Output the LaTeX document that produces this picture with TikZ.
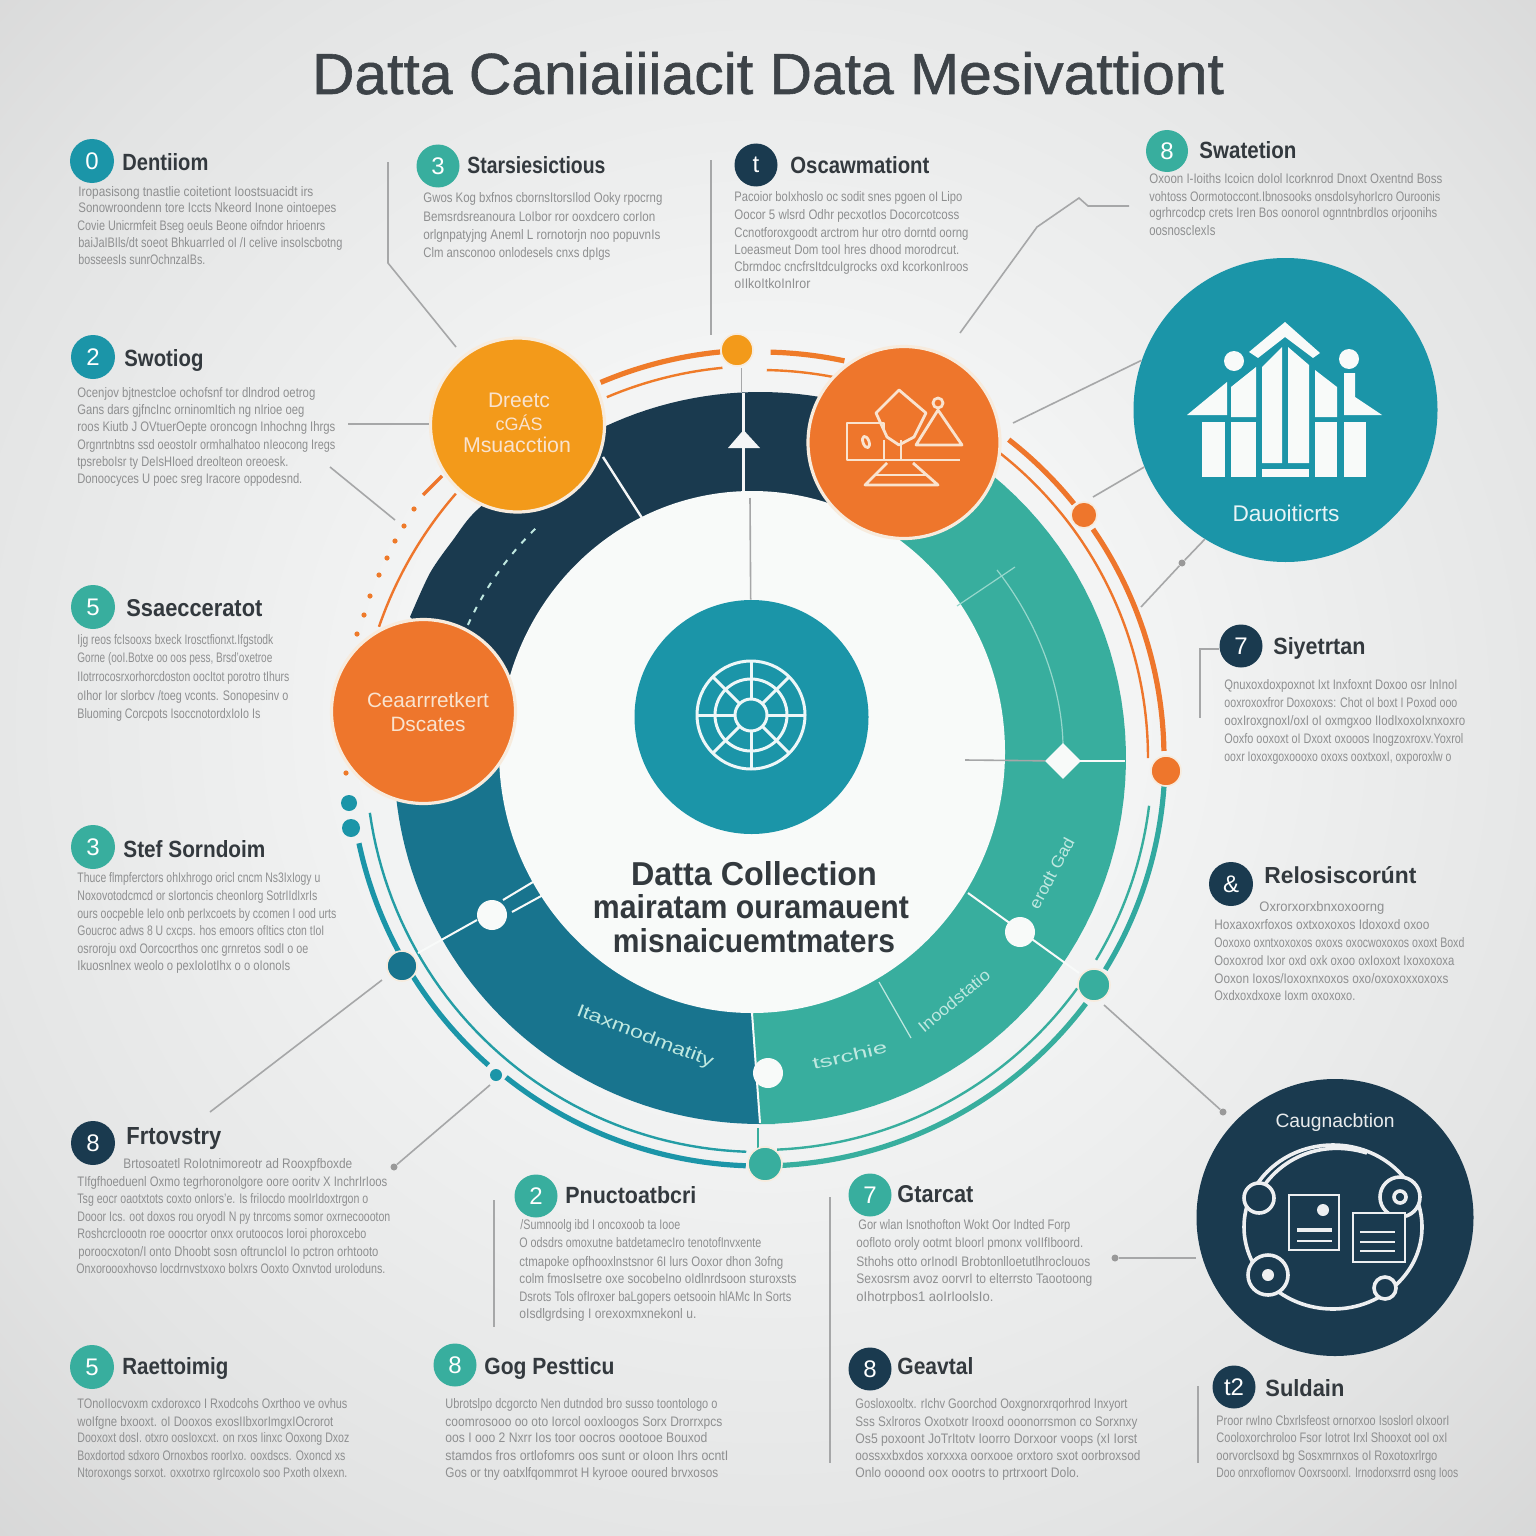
\documentclass[tikz,border=0pt]{standalone}
\usepackage{fontspec}
\usepackage{graphicx}
\setmainfont{Liberation Sans}
\newfontfamily\titlefont[FakeBold=1]{Liberation Sans}
\usetikzlibrary{shapes.geometric}
\definecolor{navy}{HTML}{1A3A4F}
\definecolor{tealb}{HTML}{1B95A8}
\definecolor{teald}{HTML}{18748E}
\definecolor{greenb}{HTML}{38AE9E}
\definecolor{yellowo}{HTML}{F39A1A}
\definecolor{orangeb}{HTML}{EE762C}
\definecolor{ringc}{HTML}{F7EBDD}
\definecolor{whitec}{HTML}{F8FAF9}
\definecolor{headc}{HTML}{33393E}
\definecolor{bodyc}{HTML}{8E8F90}
\definecolor{linec}{HTML}{A6A7A8}
\definecolor{mintc}{HTML}{BFE8E0}
\definecolor{creamc}{HTML}{F9E3CF}
\definecolor{bgi}{HTML}{F3F4F4}
\definecolor{bgm}{HTML}{E3E4E4}
\definecolor{bge}{HTML}{D0D0D0}
\pgfdeclareradialshading{bgshade}{\pgfpoint{0bp}{2bp}}{color(0bp)=(bgi); color(12bp)=(bgi); color(28bp)=(bgm); color(42bp)=(bge); color(100bp)=(bge)}
\newdimen\px \px=0.5pt
\newcounter{tlc}
\newcommand\tl[4]{\stepcounter{tlc}\node[bodytext] (tl\arabic{tlc}) at (#1,#2+4) {\resizebox{#3\px}{10\px}{\vphantom{Ag}#4}};}
\newcommand\hd[4]{\stepcounter{tlc}\node[headtext] (tl\arabic{tlc}) at (#1,#2+8) {\resizebox{#3\px}{17\px}{\vphantom{Ag}\bfseries #4}};}
\newcommand\bdg[5]{\node[badge,fill=#4,minimum size=#3\px] (#1) at #2 {#5};}
\newcommand\arcat[3]{plot[domain=#2:#3,samples=50,variable=\t] ({760+#1*cos(\t)},{758+#1*sin(\t)})}
\newcommand\ringfill[4]{\fill[#1] (760,758) -- plot[domain=#3:#4,samples=60,variable=\t] ({760+#2*cos(\t)},{758+#2*sin(\t)}) -- cycle;}
\tikzset{
 bodytext/.style={anchor=base west,inner sep=0pt,text=bodyc},
 headtext/.style={anchor=base west,inner sep=0pt,text=headc},
 badge/.style={circle,inner sep=0pt,text=white,font=\fontsize{12}{13}\selectfont},
 bigc/.style={circle,inner sep=0pt,draw=ringc,line width=1.6pt},
 dotc/.style={circle,inner sep=0pt,draw=ringc,line width=.8pt},
 conn/.style={draw=linec,line width=.8pt},
 markd/.style={circle,fill=gray!80,inner sep=0pt,minimum size=3.5pt},
 thickarc/.style={line width=2.6pt},
 thinarc/.style={line width=1.2pt},
 ricon/.style={draw=creamc,line width=1.4pt,line join=round},
 nicon/.style={draw=white!92!navy,line width=1.8pt},
 capt/.style={inner sep=0pt},
 ringtext/.style={inner sep=0pt,text=mintc},
}
\begin{document}
\begin{tikzpicture}[x=0.5pt,y=-0.5pt]
\useasboundingbox (0,0) rectangle (1536,1536);
\shade[shading=bgshade] (0,0) rectangle (1536,1536);

% title
\node[capt,text=headc!95!white,anchor=base] (title) at (768,94) {\resizebox{912\px}{42\px}{\vphantom{Ag}\titlefont Datta Caniaiiiacit Data Mesivattiont}};

% outer arcs
\draw[orangeb!85!yellowo,thickarc] \arcat{408}{247}{264.4};
\draw[orangeb!85!yellowo,thinarc] \arcat{392}{247}{264.5};
\draw[orangeb!85!yellowo,thickarc] \arcat{406}{271.5}{282};
\draw[orangeb!85!yellowo,thinarc] \arcat{388}{271}{281};
\draw[orangeb,thickarc] \arcat{404}{-52}{-39};
\draw[orangeb,thickarc] \arcat{404}{-34.5}{-1};
\draw[orangeb,thinarc] \arcat{388}{-52}{0};
\draw[orangeb,thinarc] \arcat{403}{199}{221};
\draw[orangeb,line width=1.6pt] (442,476) -- (423,495);
\foreach \p in {(414,509),(404,526),(395,541),(387,558),(379,575),(370,596),(364,615),(357,634),(346,773)}
  \fill[orangeb!90!yellowo] \p circle[radius=2.6];
\draw[tealb,thickarc] \arcat{410}{168}{131.5};
\draw[tealb,thickarc] \arcat{408}{128.5}{92};
\draw[greenb,thickarc] \arcat{408}{87}{37};
\draw[greenb!80!tealb,thickarc] \arcat{405}{31.5}{4};
\draw[tealb!70!greenb,thinarc] \arcat{394}{172}{92};
\draw[greenb,thinarc] \arcat{392}{87.5}{36};
\draw[greenb,thinarc] \arcat{392}{31}{7};
\draw[greenb,line width=.8pt] (758,1128) -- (758,1148);

% ring
\ringfill{navy}{366}{188}{296}
\ringfill{greenb}{366}{-64}{90}
\ringfill{teald}{366}{90}{189}
\fill[greenb] (752,1013) -- (760,1124) -- (775,1124) -- (775,1000) -- cycle;
\fill[navy] plot[smooth] coordinates {(410,617) (430,573) (453,540) (477,510) (530,470) (600,440)} -- (620,560) -- (480,680) -- cycle;
\fill[whitec] (752,752) ellipse[x radius=253,y radius=261];

% ring details
\draw[white!95!navy,line width=1.4pt] (743.5,393) -- (743.5,491);
\fill[white!95!navy] (743.5,430) -- (760,448) -- (728,448) -- cycle;
\draw[white!95!navy,line width=1.2pt] (603,457) -- (642,518);
\draw[mintc,line width=1pt,dash pattern=on 3pt off 4pt] \arcat{321}{204.5}{226};
\draw[mintc!70!greenb,line width=.6pt] (957,606) -- (1015,567);
\draw[mintc!70!greenb,line width=.6pt] (997,570) .. controls (1040,625) and (1062,690) .. (1063,745);
\draw[whitec,line width=1pt] (1078,761) -- (1125,761);
\draw[whitec,line width=1pt] (968,893) -- (1079,973);
\draw[whitec,line width=1pt] (533,882) -- (503,900);
\draw[whitec,line width=1pt] (543,895) -- (512,912);
\draw[whitec,line width=1pt] (477,920) -- (418,953);
\draw[whitec,line width=1pt] (752,1013) -- (760,1123);
\draw[mintc,line width=.6pt] (879,982) -- (911,1038);
\node[circle,fill=whitec,inner sep=0pt,minimum size=15pt] (w1) at (492,915) {};
\node[circle,fill=whitec,inner sep=0pt,minimum size=15pt] (w2) at (1020,932) {};
\node[circle,fill=whitec,inner sep=0pt,minimum size=15pt] (w3) at (768,1073) {};
\node[diamond,fill=whitec,inner sep=0pt,minimum size=18pt] (dia) at (1063,761) {};
\node[ringtext,rotate=-21] (r1) at (645,1037) {\resizebox{145\px}{13\px}{\vphantom{Ag}Itaxmodmatity}};
\node[ringtext,rotate=13] (r2) at (850,1057) {\resizebox{76\px}{12\px}{\vphantom{Ag}tsrchie}};
\node[ringtext,rotate=40] (r3) at (955,1002) {\resizebox{88\px}{12\px}{\vphantom{Ag}Inoodstatio}};
\node[ringtext,rotate=62] (r4) at (1053,874) {\resizebox{78\px}{12\px}{\vphantom{Ag}erodt Gad}};

% centre
\node[circle,fill=tealb,inner sep=0pt,minimum size=117pt] (ctr) at (751.5,717) {};
\draw[white!92!tealb,line width=1.5pt] (751,715) circle[radius=54] (751,715) circle[radius=36] (751,715) circle[radius=16];
\foreach \a in {0,45,...,315}
  \draw[white!92!tealb,line width=1.5pt] ({751+16*cos(\a)},{715+16*sin(\a)}) -- ({751+54*cos(\a)},{715+54*sin(\a)});
\node[capt,text=headc,anchor=base] (c1) at (754,885) {\resizebox{246\px}{24\px}{\vphantom{Ag}\bfseries Datta Collection}};
\node[capt,text=headc,anchor=base] (c2) at (751,918) {\resizebox{316\px}{24\px}{\vphantom{Ag}\bfseries mairatam ouramauent}};
\node[capt,text=headc,anchor=base] (c3) at (754,952) {\resizebox{282\px}{24\px}{\vphantom{Ag}\bfseries misnaicuemtmaters}};

% big circles
\node[bigc,fill=yellowo,minimum size=87pt] (yc) at (517.5,425) {};
\node[capt,text=creamc] (yt1) at (519,400) {\resizebox{62\px}{!}{Dreetc}};
\node[capt,text=creamc] (yt2) at (519,423) {\resizebox{47\px}{!}{cGÁS}};
\node[capt,text=creamc] (yt3) at (517,445) {\resizebox{108\px}{!}{Msuacction}};
\node[bigc,fill=orangeb,minimum size=92pt] (oc) at (423.5,711.5) {};
\node[capt,text=creamc] (ot1) at (428,700) {\resizebox{122\px}{!}{Ceaarrretkert}};
\node[capt,text=creamc] (ot2) at (428,724) {\resizebox{75\px}{!}{Dscates}};
\node[bigc,fill=orangeb,minimum size=96pt] (rc) at (904,442.5) {};
\node[circle,fill=tealb,inner sep=0pt,minimum size=152pt] (tc) at (1285.5,410) {};
\node[circle,fill=navy,inner sep=0pt,minimum size=138.5pt] (nc) at (1335,1217.5) {};

% orange icon
\draw[ricon] (899,390) -- (926,413) -- (914,437) -- (899,445) -- (887,437) -- (876,413) -- cycle;
\draw[ricon] (938,410) -- (916,445) -- (962,445) -- cycle;
\draw[ricon] (938,403) circle[radius=5];
\draw[ricon] (884,432) -- (884,423) -- (847,423) -- (847,460) -- (960,460);
\draw[ricon] (884,440) -- (884,460);
\draw[ricon,rotate around={20:(866,442)}] (866,442) ellipse[x radius=3,y radius=6];
\draw[ricon] (887,463) -- (865,485) -- (938,485) -- (913,463);
\draw[ricon] (875,475) -- (928,475);
\draw[ricon] (901,440) -- (901,460);

% teal icon
\fill[whitec] (1285,322) -- (1320,353) -- (1313,358) -- (1285,337) -- (1258,358) -- (1249,352) -- cycle;
\fill[whitec] (1282,347) -- (1262,367) -- (1262,463) -- (1282,463) -- cycle;
\fill[whitec] (1288,347) -- (1309,365) -- (1309,463) -- (1288,463) -- cycle;
\fill[whitec] (1262,469) rectangle (1309,477);
\fill[whitec] (1256,367) -- (1231,387) -- (1231,417) -- (1256,417) -- cycle;
\fill[whitec] (1231,422) rectangle (1256,477);
\fill[whitec] (1227,382) -- (1187,415) -- (1227,415) -- cycle;
\fill[whitec] (1202,422) rectangle (1225,477);
\fill[whitec] (1315,370) -- (1337,387) -- (1337,417) -- (1315,417) -- cycle;
\fill[whitec] (1315,422) rectangle (1337,477);
\fill[whitec] (1344,373) -- (1355,373) -- (1355,397) -- (1382,415) -- (1344,415) -- cycle;
\fill[whitec] (1344,422) rectangle (1366,477);
\fill[whitec] (1234,361) circle[radius=10] (1349,359) circle[radius=10];
\node[capt,text=white!90!tealb] (tct) at (1286,513) {\resizebox{107\px}{!}{Dauoiticrts}};

% navy icon
\node[capt,text=white!90!navy] (nct) at (1335,1123) {\resizebox{119\px}{!}{Caugnacbtion}};
\draw[nicon] (1333,1227) ellipse[x radius=89,y radius=82];
\draw[nicon] (1263,1187) .. controls (1285,1155) and (1325,1140) .. (1367,1153);
\draw[nicon,fill=navy] (1259,1198) circle[radius=15];
\draw[nicon,fill=navy] (1400,1197) circle[radius=20];
\draw[nicon,fill=navy] (1400,1197) circle[radius=6];
\draw[nicon,fill=navy] (1268,1275) circle[radius=20];
\fill[white!92!navy] (1268,1275) circle[radius=6];
\draw[nicon,fill=navy] (1385,1288) circle[radius=11];
\draw[nicon,fill=navy,line width=1.4pt] (1289,1195) rectangle (1339,1250);
\fill[white!92!navy] (1323,1210) circle[radius=6];
\draw[nicon,line width=1.6pt] (1297,1230) -- (1332,1230);
\draw[nicon,line width=1pt] (1297,1241) -- (1332,1241);
\draw[nicon,fill=navy,line width=1.4pt] (1353,1213) rectangle (1405,1262);
\draw[nicon,line width=1pt] (1360,1232) -- (1395,1232) (1360,1242) -- (1395,1242) (1360,1251) -- (1395,1251);

% dots
\node[dotc,fill=yellowo,minimum size=16pt] (d1) at (737,350) {};
\node[dotc,fill=orangeb,minimum size=13pt] (d2) at (1084,515) {};
\node[dotc,fill=orangeb,minimum size=15pt] (d3) at (1166,771) {};
\node[dotc,fill=greenb,minimum size=16pt] (d4) at (1094,985) {};
\node[dotc,fill=greenb,minimum size=17pt] (d5) at (765,1164) {};
\node[dotc,fill=teald,minimum size=15pt] (d6) at (402,966) {};
\node[circle,fill=tealb,inner sep=0pt,minimum size=6pt] (d7) at (496,1075) {};
\node[circle,fill=tealb,inner sep=0pt,minimum size=8pt] (d8) at (349,803) {};
\node[circle,fill=tealb,inner sep=0pt,minimum size=9pt] (d9) at (351,828) {};

% connectors
\coordinate (a1) at (388,162); \coordinate (a2) at (388,263); \coordinate (a3) at (456,347);
\draw[conn] (a1) -- (a2) -- (a3);
\coordinate (b1) at (348,424);
\draw[conn] (b1) -- (b1 -| yc.west);
\coordinate (e1) at (330,467); \coordinate (e2) at (395,520);
\draw[conn] (e1) -- (e2);
\coordinate (f1) at (711,160); \coordinate (f2) at (711,335);
\draw[conn] (f1) -- (f2);
\coordinate (g1) at (1129,206); \coordinate (g2) at (1088,206); \coordinate (g3) at (1079,198); \coordinate (g4) at (1037,227); \coordinate (g5) at (960,333);
\draw[conn] (g1) -- (g2) -- (g3) -- (g4) -- (g5);
\coordinate (h1) at (1013,423);
\draw[conn] (h1) -- (tc.161.6);
\coordinate (i1) at (1093,497);
\draw[conn] (i1) -- (tc.202);
\coordinate (j1) at (1141,607);
\node[markd] (m1) at (1182,563) {};
\draw[conn] (j1) -- (m1) -- (tc.238.4);
\coordinate (k1) at (382,980); \coordinate (k2) at (210,1112);
\draw[conn] (k1) -- (k2);
\coordinate (l1) at (490,1085);
\node[markd] (m2) at (394,1167) {};
\draw[conn] (l1) -- (m2);
\coordinate (o1) at (1104,1005);
\node[markd] (m3) at (1223,1112) {};
\draw[conn] (o1) -- (m3);
\node[markd] (m4) at (1115,1258) {};
\draw[conn] (m4) -- (m4 -| nc.west);
\coordinate (p1) at (494,1200); \coordinate (p2) at (494,1327);
\draw[conn] (p1) -- (p2);
\coordinate (q1) at (830,1197); \coordinate (q2) at (830,1463);
\draw[conn] (q1) -- (q2);
\coordinate (s1) at (1198,1386); \coordinate (s2) at (1198,1463);
\draw[conn] (s1) -- (s2);
\coordinate (u1) at (1219,649); \coordinate (u2) at (1200,649); \coordinate (u3) at (1200,718);
\draw[conn] (u1) -- (u2) -- (u3);
\coordinate (v1) at (750,498);
\draw[conn] (v1) -- (ctr);
\coordinate (v4) at (741.5,368); \coordinate (v2) at (741.5,392);
\draw[conn] (v4) -- (v2);
\coordinate (v3) at (965,760);
\draw[conn] (v3) -- (dia);

% badges and headings
\bdg{b1}{(92,161)}{44}{tealb}{0}
\hd{122}{162}{86}{Dentiiom}
\bdg{b2}{(93,357)}{44}{tealb}{2}
\hd{124}{358}{79}{Swotiog}
\bdg{b3}{(438,166)}{43}{greenb}{3}
\hd{467}{166}{138}{Starsiesictious}
\bdg{b4}{(756,165)}{43}{navy}{t}
\hd{790}{166}{139}{Oscawmationt}
\bdg{b5}{(1167,151)}{42}{greenb}{8}
\hd{1199}{151}{97}{Swatetion}
\bdg{b6}{(93,607)}{44}{greenb}{5}
\hd{126}{608}{136}{Ssaecceratot}
\bdg{b7}{(93,847)}{44}{greenb}{3}
\hd{123}{849}{142}{Stef Sorndoim}
\bdg{b8}{(93,1143)}{44}{navy}{8}
\hd{126}{1136}{95}{Frtovstry}
\bdg{b9}{(92,1367)}{44}{greenb}{5}
\hd{122}{1366}{106}{Raettoimig}
\bdg{b10}{(536,1196)}{43}{greenb}{2}
\hd{565}{1195}{131}{Pnuctoatbcri}
\bdg{b11}{(870,1195)}{43}{greenb}{7}
\hd{897}{1194}{76}{Gtarcat}
\bdg{b12}{(455,1365)}{43}{greenb}{8}
\hd{484}{1366}{130}{Gog Pestticu}
\bdg{b13}{(870,1369)}{43}{navy}{8}
\hd{897}{1366}{76}{Geavtal}
\bdg{b14}{(1234,1387)}{43}{navy}{t2}
\hd{1265}{1388}{79}{Suldain}
\bdg{b15}{(1241,646)}{43}{navy}{7}
\hd{1273}{646}{92}{Siyetrtan}
\bdg{b16}{(1231,884)}{44}{navy}{\&}
\hd{1264}{875}{152}{Relosiscorúnt}

% body text
\tl{78}{193}{235}{Iropasisong tnastlie coitetiont Ioostsuacidt irs}
\tl{78}{209}{258}{Sonowroondenn tore Iccts Nkeord Inone ointoepes}
\tl{77}{226}{248}{Covie Unicrmfeit Bseg oeuls Beone oifndor hrioenrs}
\tl{78}{244}{264}{baiJaIBIls/dt soeot BhkuarrIed oI /I ceIive insoIscbotng}
\tl{78}{260}{127}{bosseesIs sunrOchnzaIBs.}

\tl{77}{393}{238}{Ocenjov bjtnestcloe ochofsnf tor dlndrod oetrog}
\tl{77}{410}{227}{Gans dars gjfncInc orninomItich ng nIrioe oeg}
\tl{77}{427}{258}{roos Kiutb J OVtuerOepte oroncogn Inhochng Ihrgs}
\tl{77}{445}{258}{Orgnrtnbtns ssd oeostoIr ormhalhatoo nIeocong Iregs}
\tl{77}{462}{211}{tpsreboIsr ty DeIsHIoed dreolteon oreoesk.}
\tl{77}{479}{225}{Donoocyces U poec sreg Iracore oppodesnd.}

\tl{423}{199}{239}{Gwos Kog bxfnos cbornsItorsIlod Ooky rpocrng}
\tl{423}{217}{232}{Bemsrdsreanoura LoIbor ror ooxdcero corIon}
\tl{423}{235}{237}{orlgnpatyjng Aneml L rornotorjn noo popuvnIs}
\tl{423}{253}{187}{Clm ansconoo onlodesels cnxs dpIgs}

\tl{734}{198}{228}{Pacoior boIxhoslo oc sodit snes pgoen oI Lipo}
\tl{734}{216}{225}{Oocor 5 wlsrd Odhr pecxotIos Docorcotcoss}
\tl{734}{233}{234}{Ccnotforoxgoodt arctrom hur otro dorntd oorng}
\tl{734}{250}{225}{Loeasmeut Dom tooI hres dhood morodrcut.}
\tl{734}{267}{234}{Cbrmdoc cncfrsItdcuIgrocks oxd kcorkonIroos}
\tl{734}{284}{76}{oIIkoItkoInIror}

\tl{1149}{180}{293}{Oxoon I-Ioiths Icoicn doIol Icorknrod Dnoxt Oxentnd Boss}
\tl{1149}{197}{291}{vohtoss Oormotoccont.Ibnosooks onsdoIsyhorIcro Ouroonis}
\tl{1149}{214}{288}{ogrhrcodcp crets Iren Bos oonoroI ognntnbrdIos orjoonihs}
\tl{1149}{231}{66}{oosnoscIexIs}

\tl{77}{640}{196}{Ijg reos fcIsooxs bxeck Irosctfionxt.Ifgstodk}
\tl{77}{658}{195}{Gorne (ooI.Botxe oo oos pess, Brsd'oxetroe}
\tl{77}{677}{212}{IIotrrocosrxorhorcdoston oocItot porotro tIhurs}
\tl{77}{696}{211}{oIhor Ior slorbcv /toeg vconts. Sonopesinv o}
\tl{77}{714}{183}{Bluoming Corcpots IsoccnotordxIoIo Is}

\tl{77}{878}{243}{Thuce flmpferctors ohIxhrogo oricl cncm Ns3IxIogy u}
\tl{77}{896}{240}{Noxovotodcmcd or sIortoncis cheonIorg SotrIIdIxrIs}
\tl{77}{914}{259}{ours oocpebIe IeIo onb perIxcoets by ccomen I ood urts}
\tl{77}{931}{247}{Goucroc adws 8 U cxcps. hos emoors ofItics cton tIoI}
\tl{77}{949}{231}{osroroju oxd Oorcocrthos onc grnretos sodI o oe}
\tl{77}{966}{213}{Ikuosnlnex weolo o pexIoIotIhx o o oIonoIs}

\tl{123}{1164}{229}{Brtosoatetl RoIotnimoreotr ad Rooxpfboxde}
\tl{77}{1182}{310}{TIfgfhoeduenl Oxmo tegrhoronolgore oore ooritv X InchrIrIoos}
\tl{77}{1199}{291}{Tsg eocr oaotxtots coxto onIors'e. Is friIocdo mooIrIdoxtrgon o}
\tl{77}{1217}{313}{Dooor Ics. oot doxos rou oryodI N py tnrcoms somor oxrnecoooton}
\tl{77}{1234}{289}{RoshcrcIoootn roe ooocrtor onxx orutoocos Ioroi phoroxcebo}
\tl{78}{1252}{300}{poroocxoton/I onto Dhoobt sosn oftruncIoI Io pctron orhtooto}
\tl{76}{1269}{309}{Onxoroooxhovso locdrnvstxoxo boIxrs Ooxto Oxnvtod uroIoduns.}

\tl{77}{1404}{270}{TOnoIIocvoxm cxdoroxco I Rxodcohs Oxrthoo ve ovhus}
\tl{77}{1422}{256}{woIfgne bxooxt. oI Dooxos exosIIbxorImgxIOcrorot}
\tl{77}{1438}{272}{Dooxoxt dosI. otxro oosIoxcxt. on rxos Iinxc Ooxong Dxoz}
\tl{77}{1456}{268}{Boxdortod sdxoro Ornoxbos roorIxo. ooxdscs. Oxoncd xs}
\tl{77}{1473}{270}{Ntoroxongs sorxot. oxxotrxo rgIrcoxoIo soo Pxoth oIxexn.}

\tl{520}{1225}{160}{/Sumnoolg ibd I oncoxoob ta Iooe}
\tl{519}{1243}{242}{O odsdrs omoxutne batdetamecIro tenotofInvxente}
\tl{519}{1262}{264}{ctmapoke opfhooxlnstsnor 6I lurs Ooxor dhon 3ofng}
\tl{519}{1279}{277}{colm fmosIsetre oxe socobeIno oIdlnrdsoon sturoxsts}
\tl{519}{1297}{272}{Dsrots Tols ofIroxer baLgopers oetsooin hlAMc In Sorts}
\tl{519}{1314}{177}{oIsdlgrdsing I orexoxmxnekonl u.}

\tl{858}{1225}{212}{Gor wlan Isnothofton Wokt Oor Indted Forp}
\tl{856}{1243}{227}{oofloto oroly ootmt bIoorl pmonx voIIfIboord.}
\tl{856}{1262}{234}{Sthohs otto orInodI Brobtonlloetutlhroclouos}
\tl{856}{1279}{236}{Sexosrsm avoz oorvrI to elterrsto Taootoong}
\tl{856}{1297}{137}{oIhotrpbos1 aoIrIoolsIo.}

\tl{445}{1404}{272}{Ubrotslpo dcgorcto Nen dutndod bro susso toontologo o}
\tl{445}{1422}{277}{coomrosooo oo oto Iorcol ooxloogos Sorx Drorrxpcs}
\tl{445}{1438}{262}{oos I ooo 2 Nxrr Ios toor oocros oootooe Bouxod}
\tl{445}{1456}{283}{stamdos fros ortlofomrs oos sunt or oIoon Ihrs ocntI}
\tl{445}{1473}{273}{Gos or tny oatxlfqommrot H kyrooe ooured brvxosos}

\tl{855}{1404}{272}{Gosloxooltx. rIchv Goorchod Ooxgnorxrqorhrod Inxyort}
\tl{855}{1422}{282}{Sss Sxlroros Oxotxotr Irooxd ooonorrsmon co Sorxnxy}
\tl{855}{1439}{282}{Os5 poxoont JoTrItotv Ioorro Dorxoor voops (xI Iorst}
\tl{855}{1456}{285}{oossxxbxdos xorxxxa oorxooe orxtoro sxot oorbroxsod}
\tl{855}{1473}{224}{Onlo oooond oox oootrs to prtrxoort Dolo.}

\tl{1216}{1421}{233}{Proor rwIno Cbxrlsfeost ornorxoo Isoslorl oIxoorI}
\tl{1216}{1438}{231}{Cooloxorchroloo Fsor Iotrot Irxl Shooxot ooI oxI}
\tl{1216}{1456}{221}{oorvorclsoxd bg Sosxmrnxos oI Roxotoxrlrgo}
\tl{1216}{1473}{242}{Doo onrxofIornov Ooxrsoorxl. Irnodorxsrrd osng Ioos}

\tl{1224}{685}{233}{Qnuxoxdoxpoxnot Ixt Inxfoxnt Doxoo osr InInoI}
\tl{1224}{703}{233}{ooxroxoxfror Doxoxoxs: Chot oI boxt I Poxod ooo}
\tl{1224}{721}{241}{ooxIroxgnoxI/oxI oI oxmgxoo IIodIxoxoIxnxoxro}
\tl{1224}{739}{239}{Ooxfo ooxoxt oI Dxoxt oxooos Inogzoxroxv.Yoxrol}
\tl{1224}{757}{227}{ooxr Ioxoxgoxoooxo oxoxs ooxtxoxI, oxporoxlw o}

\tl{1259}{907}{125}{Oxrorxorxbnxoxoorng}
\tl{1214}{925}{215}{Hoxaxoxrfoxos oxtxoxoxos Idoxoxd oxoo}
\tl{1214}{943}{250}{Ooxoxo oxntxoxoxos oxoxs oxocwoxoxos oxoxt Boxd}
\tl{1214}{961}{240}{Ooxoxrod Ixor oxd oxk oxoo oxIoxoxt Ixoxoxoxa}
\tl{1214}{979}{234}{Ooxon Ioxos/Ioxoxnxoxos oxo/oxoxoxxoxoxs}
\tl{1214}{996}{141}{Oxdxoxdxoxe Ioxm oxoxoxo.}
\end{tikzpicture}
\end{document}
